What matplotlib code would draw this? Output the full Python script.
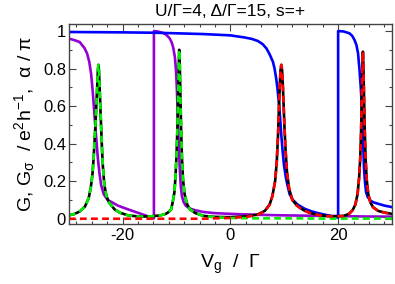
import numpy as np
import matplotlib
matplotlib.use('Agg')
import matplotlib.pyplot as plt
from matplotlib.ticker import MultipleLocator, AutoMinorLocator, FormatStrFormatter

plt.rcParams['font.family'] = ['Liberation Sans', 'DejaVu Sans']
plt.rcParams['mathtext.fontset'] = 'custom'
plt.rcParams['mathtext.rm'] = 'Liberation Sans'
plt.rcParams['mathtext.it'] = 'Liberation Sans:italic'
plt.rcParams['axes.unicode_minus'] = False

# conductances, common Vg grid
vg = [-30, -29, -28, -27, -26.3, -25.9, -25.6, -25.4, -25.2, -25.05, -24.9, -24.75,
      -24.6, -24.5, -24.4, -24.25, -24.1, -24.0, -23.85, -23.7, -23.4, -23.0, -22.5,
      -21.5, -20.5, -19, -17, -15, -13, -12, -11.5, -11, -10.7, -10.4, -10.2, -10.0,
      -9.85, -9.7, -9.6, -9.5, -9.4, -9.3, -9.15, -9.0, -8.8, -8.5, -8.0, -7.5, -6.5,
      -5, -3, 0, 3, 5, 6.4, 7.3, 7.8, 8.3, 8.6, 8.85, 9.0, 9.15, 9.3, 9.45, 9.6, 9.75,
      9.9, 10.05, 10.25, 10.5, 10.9, 11.5, 12.3, 13.5, 15, 17, 19, 21, 22, 22.7, 23.2,
      23.6, 23.9, 24.1, 24.25, 24.4, 24.5, 24.6, 24.7, 24.8, 24.95, 25.1, 25.3, 25.6,
      26.0, 26.5, 27.5, 29, 30]
g_up = [0.018, 0.025, 0.038, 0.065, 0.11, 0.17, 0.24, 0.32, 0.42, 0.50, 0.60, 0.69,
        0.79, 0.82, 0.79, 0.68, 0.56, 0.49, 0.38, 0.29, 0.18, 0.12, 0.085,
        0.05, 0.032, 0.018, 0.012, 0.012, 0.018, 0.026, 0.035, 0.05, 0.09, 0.14, 0.22, 0.34,
        0.47, 0.65, 0.80, 0.90, 0.82, 0.68, 0.48, 0.33, 0.21, 0.13, 0.075, 0.05, 0.03,
        0.015, 0.008, 0.004, 0.003, 0.002, 0.002, 0.002, 0.002, 0.002, 0.002, 0.002, 0.002, 0.002, 0.002, 0.002, 0.002, 0.002,
        0.002, 0.002, 0.002, 0.002, 0.002, 0.002, 0.002, 0.002, 0.001, 0.001, 0.001, 0.001, 0.001, 0.001, 0.001,
        0.001, 0.001, 0.001, 0.001, 0.001, 0.001, 0.001, 0.001, 0.001, 0.001, 0.001, 0.001, 0.001,
        0.001, 0.001, 0.001, 0.001, 0.001]
g_dn = [0, 0, 0, 0, 0, 0, 0, 0, 0, 0, 0, 0,
        0, 0, 0, 0, 0, 0, 0, 0, 0, 0, 0,
        0, 0, 0, 0, 0, 0, 0, 0, 0, 0, 0, 0, 0,
        0, 0, 0, 0, 0, 0, 0, 0, 0, 0, 0, 0, 0,
        0, 0.002, 0.004, 0.01, 0.02, 0.04, 0.075, 0.12, 0.2, 0.30, 0.45, 0.58, 0.70, 0.79, 0.82, 0.79, 0.70,
        0.59, 0.48, 0.36, 0.25, 0.16, 0.10, 0.07, 0.045, 0.028, 0.016, 0.012, 0.014, 0.025, 0.045, 0.075,
        0.13, 0.22, 0.32, 0.45, 0.65, 0.80, 0.89, 0.81, 0.66, 0.46, 0.32, 0.21, 0.13,
        0.085, 0.06, 0.04, 0.03, 0.025]
g_tot = [0.018, 0.025, 0.038, 0.065, 0.11, 0.17, 0.24, 0.32, 0.42, 0.50, 0.60, 0.69,
         0.79, 0.82, 0.79, 0.68, 0.56, 0.49, 0.38, 0.29, 0.18, 0.12, 0.085,
         0.05, 0.032, 0.018, 0.012, 0.012, 0.018, 0.026, 0.035, 0.05, 0.09, 0.14, 0.22, 0.34,
         0.47, 0.65, 0.80, 0.90, 0.82, 0.68, 0.48, 0.33, 0.21, 0.13, 0.075, 0.05, 0.03,
         0.015, 0.010, 0.008, 0.013, 0.022, 0.042, 0.077, 0.122, 0.2, 0.30, 0.45, 0.58, 0.70, 0.79, 0.82, 0.79, 0.70,
         0.59, 0.48, 0.36, 0.25, 0.16, 0.10, 0.072, 0.047, 0.029, 0.017, 0.013, 0.015, 0.026, 0.046, 0.076,
         0.13, 0.22, 0.32, 0.45, 0.65, 0.80, 0.89, 0.81, 0.66, 0.46, 0.32, 0.21, 0.13,
         0.086, 0.061, 0.041, 0.031, 0.026]

# phase alpha/pi, spin up (violet)
vg_a_up = [-30, -29, -28, -27.1, -26.6, -26.2, -25.85, -25.55, -25.3, -25.1, -24.85, -24.6,
           -24.3, -24.0, -23.5, -22.8, -21.8, -20.9, -19, -17, -15.5, -14.2, -14.2, -13.5,
           -12.5, -11.9, -11.3, -10.9, -10.6, -10.3, -10.1, -9.95, -9.8, -9.65, -9.5, -9.35,
           -9.2, -9.0, -8.7, -8.3, -7.6, -6.5, -5, -3, 0, 5, 10, 15, 20, 25, 30]
a_up = [0.96, 0.952, 0.942, 0.91, 0.88, 0.836, 0.77, 0.676, 0.58, 0.50, 0.41, 0.32,
        0.24, 0.179, 0.13, 0.1, 0.085, 0.07, 0.05, 0.03, 0.015, 0.002, 1.0, 0.998,
        0.99, 0.98, 0.962, 0.94, 0.91, 0.86, 0.79, 0.70, 0.58, 0.45, 0.33, 0.24,
        0.17, 0.12, 0.09, 0.07, 0.055, 0.045, 0.036, 0.03, 0.026, 0.021, 0.018, 0.016, 0.014, 0.012, 0.011]

# phase alpha/pi, spin down (blue)
vg_a_dn = [-30, -20, -14, -10, -5, 0, 2.6, 4.0, 5.1, 6.0, 6.7, 7.3, 7.9, 8.2, 8.5, 8.75,
           9.0, 9.25, 9.45, 9.7, 9.95, 10.3, 10.6, 11.0, 11.6, 12.5, 13.8, 15, 16.25, 18.1,
           20, 20, 21, 22.1, 22.6, 23.05, 23.4, 23.7, 23.95, 24.2, 24.35, 24.5, 24.65, 24.8,
           25.0, 25.2, 25.5, 26.0, 26.5, 27.4, 28.6, 30]
a_dn = [0.995, 0.993, 0.991, 0.988, 0.984, 0.977, 0.966, 0.958, 0.947, 0.93, 0.907, 0.875,
        0.836, 0.80, 0.747, 0.69, 0.62, 0.53, 0.445, 0.36, 0.285, 0.22, 0.178, 0.13, 0.10,
        0.075, 0.053, 0.04, 0.03, 0.018, 0.006, 1.0, 0.998, 0.988, 0.975, 0.952, 0.925,
        0.881, 0.80, 0.70, 0.62, 0.525, 0.40, 0.27, 0.19, 0.14, 0.115, 0.097, 0.088, 0.08,
        0.07, 0.062]

fig = plt.figure(figsize=(3.95, 2.84), dpi=100)
ax = fig.add_axes([68.8 / 395, 60 / 284, 323.2 / 395, 199.7 / 284])

lw = 1.9
ax.plot(vg_a_up, a_up, color='#9400d3', lw=lw)
ax.plot(vg_a_dn, a_dn, color='#0000ff', lw=lw)
ax.plot(vg, g_tot, color='black', lw=lw)
ax.plot(vg, g_up, color='#00ee00', lw=lw, dashes=(2.6, 1.6))
ax.plot(vg, g_dn, color='#ff0000', lw=lw, dashes=(2.6, 1.6))

ax.set_xlim(-30, 30)
ax.set_ylim(-0.028, 1.036)
ax.xaxis.set_major_locator(MultipleLocator(20))
ax.xaxis.set_minor_locator(AutoMinorLocator(7))
ax.yaxis.set_major_locator(MultipleLocator(0.2))
ax.yaxis.set_minor_locator(MultipleLocator(0.1))
ax.yaxis.set_major_formatter(FormatStrFormatter('%g'))
ax.tick_params(which='both', direction='in', top=True, right=True, labelsize=12, width=0.8, color='#444444')
ax.tick_params(which='major', length=5, pad=3)
ax.tick_params(axis='y', pad=2)
ax.tick_params(which='minor', length=2.5)
for s in ax.spines.values():
    s.set_color('#444444')
    s.set_linewidth(1.0)

ax.set_title('U/Γ=4, Δ/Γ=15, s=+', fontsize=12.5, pad=6)
ax.set_xlabel(r'V$_\mathrm{g}$  /  Γ', fontsize=14, labelpad=7)
ax.set_ylabel(r'G, G$_\mathrm{σ}$  / e$^\mathrm{2}$h$^\mathrm{-1}$,  α / π', fontsize=14, labelpad=4)

fig.savefig('out.png', dpi=100)
